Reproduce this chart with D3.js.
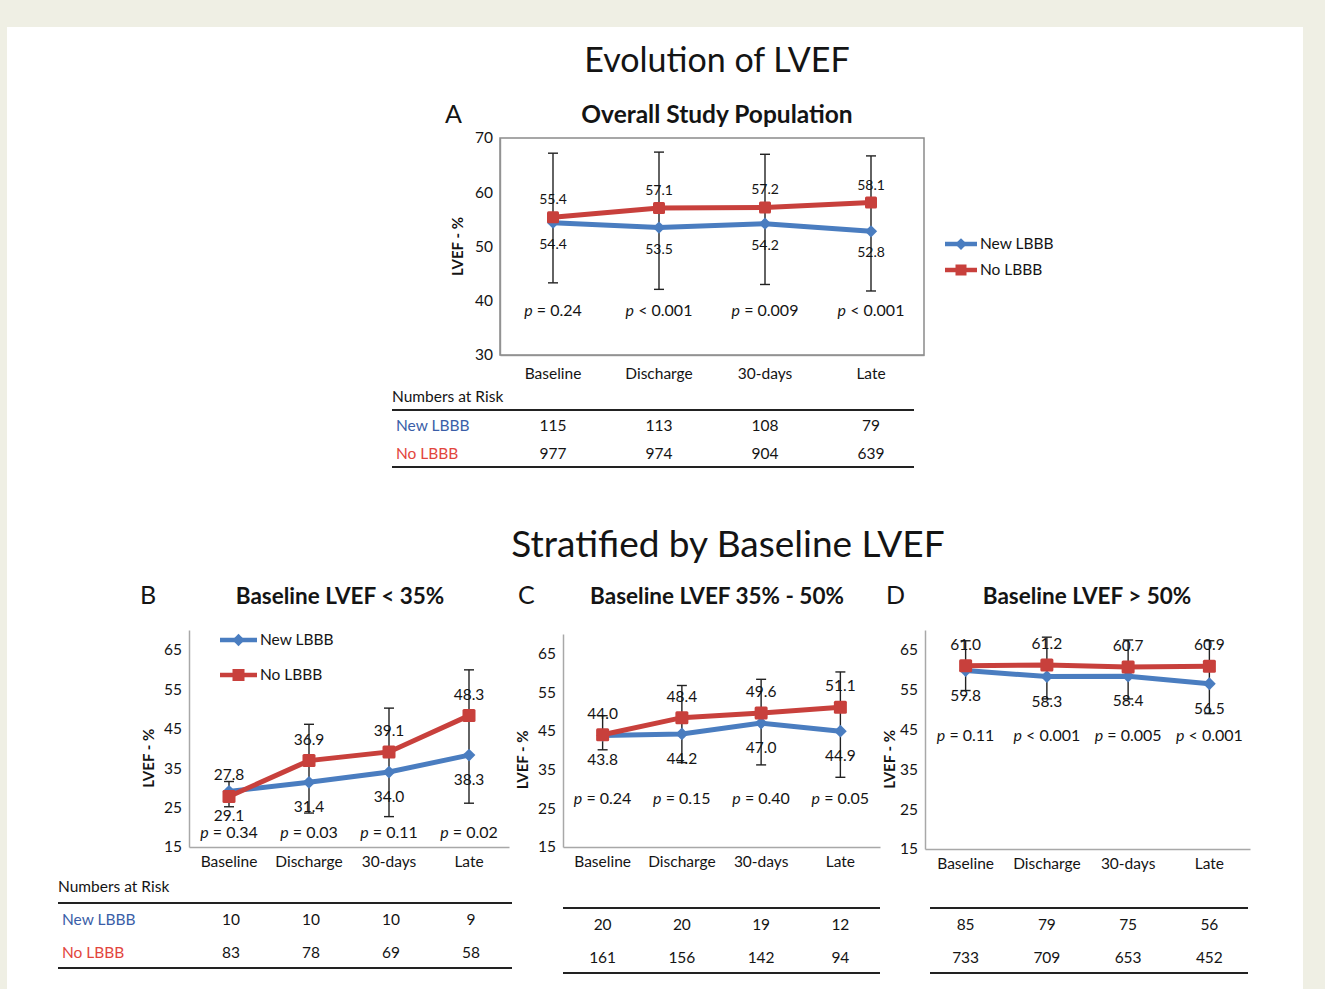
<!DOCTYPE html>
<html>
<head>
<meta charset="utf-8">
<script src="https://cdn.jsdelivr.net/npm/d3@7"></script>
<style>
  body { margin: 0; background: #efefe4; }
  svg { display: block; font-family: Lato, "Open Sans", sans-serif; }
</style>
</head>
<body>
<svg id="chart" width="1325" height="989"></svg>
<script>
// time points & series
var timepoints = ["Baseline", "Discharge", "30-days", "Late"];
var seriesNames = ["New LBBB", "No LBBB"];

// A - overall population
var newA = [54.4, 53.5, 54.2, 52.8];
var noA = [55.4, 57.1, 57.2, 58.1];
var errLowA = [43.3, 42.1, 43.0, 41.8];
var errHighA = [67.2, 67.4, 67.0, 66.7];
var pA = ["= 0.24", "< 0.001", "= 0.009", "< 0.001"];
var riskNewA = [115, 113, 108, 79];
var riskNoA = [977, 974, 904, 639];

// B - baseline LVEF < 35%
var newB = [29.1, 31.4, 34.0, 38.3];
var noB = [27.8, 36.9, 39.1, 48.3];
var errLowB = [25.2, 23.6, 22.7, 26.1];
var errHighB = [31.6, 46.1, 50.2, 59.9];
var pB = ["= 0.34", "= 0.03", "= 0.11", "= 0.02"];
var riskNewB = [10, 10, 10, 9];
var riskNoB = [83, 78, 69, 58];

// C - baseline LVEF 35% - 50%
var newC = [43.8, 44.2, 47.0, 44.9];
var noC = [44.0, 48.4, 49.6, 51.1];
var errLowC = [40.1, 36.8, 36.2, 33.0];
var errHighC = [48.9, 56.7, 58.3, 60.2];
var pC = ["= 0.24", "= 0.15", "= 0.40", "= 0.05"];
var riskNewC = [20, 20, 19, 12];
var riskNoC = [161, 156, 142, 94];

// D - baseline LVEF > 50%
var newD = [59.8, 58.3, 58.4, 56.5];
var noD = [61.0, 61.2, 60.7, 60.9];
var errLowD = [54.8, 52.7, 52.7, 49.0];
var errHighD = [67.3, 68.2, 67.5, 67.3];
var pD = ["= 0.11", "< 0.001", "= 0.005", "< 0.001"];
var riskNewD = [85, 79, 75, 56];
var riskNoD = [733, 709, 653, 452];

var ticksA = [30, 40, 50, 60, 70];
var ticksBCD = [15, 25, 35, 45, 55, 65];

var blue = "#4a7dc0", red = "#c8403c";
var tblBlue = "#3b5ea8", tblRed = "#e2453c";
var ink = "#141414";

var svg = d3.select("#chart");

// white card
svg.append("rect").attr("x", 7).attr("y", 27).attr("width", 1296).attr("height", 962).attr("fill", "#fff");

svg.append("text").attr("x", 717).attr("y", 72).attr("text-anchor", "middle")
  .attr("font-size", 34).attr("fill", ink).text("Evolution of LVEF");
svg.append("text").attr("x", 728).attr("y", 557).attr("text-anchor", "middle")
  .attr("font-size", 37).attr("fill", ink).text("Stratified by Baseline LVEF");

function drawPanel(o) {
  var g = svg.append("g");
  var x = d3.scaleBand().domain(timepoints).range([o.left, o.right]);
  var y = d3.scaleLinear().domain(o.domain).range([o.bottom, o.top]);
  var cx = function(i) { return x(timepoints[i]) + x.bandwidth() / 2; };

  // letter + title
  g.append("text").attr("x", o.letterX).attr("y", o.titleY).attr("font-size", 25).attr("fill", ink)
    .text(o.letter);
  g.append("text").attr("x", o.titleX).attr("y", o.titleY).attr("text-anchor", "middle")
    .attr("font-size", o.tfs).attr("font-weight", "bold").attr("fill", ink).text(o.title);

  // axes
  var ya = g.append("g").attr("transform", "translate(" + o.left + ",0)")
    .call(d3.axisLeft(y).tickValues(o.ticks).tickSize(0).tickPadding(7));
  ya.selectAll("text").attr("font-size", o.fs).attr("fill", ink).attr("font-family", "Lato");
  ya.select(".domain").attr("stroke", "#a8a8a8").attr("stroke-width", 1.5);

  var xa = g.append("g").attr("transform", "translate(0," + o.bottom + ")")
    .call(d3.axisBottom(x).tickSize(0).tickPadding(o.xPad));
  xa.selectAll("text").attr("font-size", o.fs).attr("fill", ink).attr("font-family", "Lato");
  xa.select(".domain").attr("stroke", "#a8a8a8").attr("stroke-width", 1.5);

  if (o.box) {
    g.append("rect").attr("x", o.left).attr("y", o.top)
      .attr("width", o.right - o.left).attr("height", o.bottom - o.top)
      .attr("fill", "none").attr("stroke", "#8a8a8a").attr("stroke-width", 1.5);
  }

  // y title
  g.append("text").attr("transform", "translate(" + o.yTitleX + "," + y((o.domain[0] + o.domain[1]) / 2 + o.yTitleShift) + ") rotate(-90)")
    .attr("text-anchor", "middle").attr("font-size", 15).attr("font-weight", "bold").attr("fill", ink).text("LVEF - %");

  // error bars
  o.low.forEach(function(lo, i) {
    var hi = o.high[i], xc = cx(i);
    g.append("line").attr("x1", xc).attr("x2", xc).attr("y1", y(lo)).attr("y2", y(hi))
      .attr("stroke", "#222").attr("stroke-width", 1.4);
    [lo, hi].forEach(function(v) {
      g.append("line").attr("x1", xc - 5).attr("x2", xc + 5).attr("y1", y(v)).attr("y2", y(v))
        .attr("stroke", "#222").attr("stroke-width", 1.4);
    });
  });

  var line = d3.line().x(function(d, i) { return cx(i); }).y(function(d) { return y(d); });

  // blue series
  g.append("path").datum(o.nw).attr("d", line).attr("fill", "none")
    .attr("stroke", blue).attr("stroke-width", o.lw);
  g.selectAll(".dia").data(o.nw).enter().append("path")
    .attr("d", d3.symbol(d3.symbolDiamond2, o.ms * 8))
    .attr("transform", function(d, i) { return "translate(" + cx(i) + "," + y(d) + ")"; })
    .attr("fill", blue);
  // red series
  g.append("path").datum(o.no).attr("d", line).attr("fill", "none")
    .attr("stroke", red).attr("stroke-width", o.lw);
  g.selectAll(".sq").data(o.no).enter().append("rect")
    .attr("x", function(d, i) { return cx(i) - o.ms / 2; })
    .attr("y", function(d) { return y(d) - o.ms / 2; })
    .attr("width", o.ms).attr("height", o.ms).attr("rx", 1.5).attr("fill", red);

  // data labels
  o.no.forEach(function(v, i) {
    g.append("text").attr("x", cx(i)).attr("y", y(v) - o.labUp).attr("text-anchor", "middle")
      .attr("font-size", o.lfs).attr("fill", ink).text(v.toFixed(1));
  });
  o.nw.forEach(function(v, i) {
    g.append("text").attr("x", cx(i)).attr("y", y(v) + o.labDown).attr("text-anchor", "middle")
      .attr("font-size", o.lfs).attr("fill", ink).text(v.toFixed(1));
  });

  // p values
  o.p.forEach(function(s, i) {
    var t = g.append("text").attr("x", cx(i)).attr("y", o.pY).attr("text-anchor", "middle")
      .attr("font-size", o.fs + 0.5).attr("fill", ink);
    t.append("tspan").attr("font-style", "italic").text("p");
    t.append("tspan").text(" " + s);
  });

  // numbers at risk table
  var tb = o.table;
  if (tb.heading) {
    g.append("text").attr("x", tb.x0).attr("y", tb.headY).attr("font-size", o.fs).attr("fill", ink)
      .text("Numbers at Risk");
  }
  [tb.line1, tb.line2].forEach(function(ly) {
    g.append("line").attr("x1", tb.x0).attr("x2", tb.x1).attr("y1", ly).attr("y2", ly)
      .attr("stroke", "#222").attr("stroke-width", 2.2);
  });
  var rows = [o.riskNew, o.riskNo], rowColors = [tblBlue, tblRed];
  rows.forEach(function(row, r) {
    if (tb.heading) {
      g.append("text").attr("x", tb.x0 + 4).attr("y", tb.rowY[r]).attr("font-size", o.fs)
        .attr("fill", rowColors[r]).text(seriesNames[r]);
    }
    row.forEach(function(v, i) {
      g.append("text").attr("x", cx(i) + (tb.dx || 0)).attr("y", tb.rowY[r]).attr("text-anchor", "middle")
        .attr("font-size", o.fs).attr("fill", ink).text(v);
    });
  });

  return { g: g, x: x, y: y, cx: cx };
}

function legend(g, x0, x1, yBlue, yRed, fs, ms) {
  [[yBlue, blue, "New LBBB", "d"], [yRed, red, "No LBBB", "s"]].forEach(function(e) {
    g.append("line").attr("x1", x0).attr("x2", x1).attr("y1", e[0]).attr("y2", e[0])
      .attr("stroke", e[1]).attr("stroke-width", 4.5);
    var mx = (x0 + x1) / 2;
    if (e[3] === "d") {
      g.append("path").attr("d", d3.symbol(d3.symbolDiamond2, ms * 8))
        .attr("transform", "translate(" + mx + "," + e[0] + ")").attr("fill", e[1]);
    } else {
      g.append("rect").attr("x", mx - ms / 2).attr("y", e[0] - ms / 2).attr("width", ms).attr("height", ms)
        .attr("fill", e[1]);
    }
    g.append("text").attr("x", x1 + 3).attr("y", e[0] + 5).attr("font-size", fs).attr("fill", ink).text(e[2]);
  });
}

var pa = drawPanel({
  letter: "A", letterX: 445, title: "Overall Study Population", titleX: 717, titleY: 123, tfs: 24.5,
  left: 500, right: 924, top: 138, bottom: 355, domain: [30, 70], ticks: ticksA,
  box: true, fs: 15.5, lfs: 14, xPad: 13, lw: 5, ms: 12, labUp: 13, labDown: 26,
  yTitleX: 463, yTitleShift: 0,
  nw: newA, no: noA, low: errLowA, high: errHighA, p: pA, pY: 316,
  riskNew: riskNewA, riskNo: riskNoA,
  table: { heading: true, x0: 392, x1: 914, headY: 402, line1: 410, line2: 467, rowY: [431, 459] }
});
legend(pa.g, 945, 977, 244, 270, 15.5, 11);

var pb = drawPanel({
  letter: "B", letterX: 140, title: "Baseline LVEF < 35%", titleX: 340, titleY: 604, tfs: 22.5,
  left: 189, right: 509, top: 630, bottom: 847, domain: [15, 70], ticks: ticksBCD,
  box: false, fs: 15.5, lfs: 15.5, xPad: 9, lw: 5, ms: 13, labUp: 16, labDown: 30,
  yTitleX: 154, yTitleShift: -5,
  nw: newB, no: noB, low: errLowB, high: errHighB, p: pB, pY: 838,
  riskNew: riskNewB, riskNo: riskNoB,
  table: { heading: true, x0: 58, x1: 512, headY: 892, line1: 903, line2: 968, rowY: [925, 958], dx: 2 }
});
legend(pb.g, 220, 257, 640, 675, 15.5, 12);

drawPanel({
  letter: "C", letterX: 518, title: "Baseline LVEF 35% - 50%", titleX: 717, titleY: 604, tfs: 22.5,
  left: 563, right: 880, top: 634, bottom: 847, domain: [15, 70], ticks: ticksBCD,
  box: false, fs: 15.5, lfs: 15.5, xPad: 9, lw: 5, ms: 13, labUp: 16, labDown: 30,
  yTitleX: 528, yTitleShift: -5,
  nw: newC, no: noC, low: errLowC, high: errHighC, p: pC, pY: 804,
  riskNew: riskNewC, riskNo: riskNoC,
  table: { heading: false, x0: 563, x1: 880, line1: 908, line2: 973, rowY: [930, 963] }
});

drawPanel({
  letter: "D", letterX: 886, title: "Baseline LVEF > 50%", titleX: 1087, titleY: 604, tfs: 22.5,
  left: 925, right: 1250, top: 630, bottom: 849, domain: [15, 70], ticks: ticksBCD,
  box: false, fs: 15.5, lfs: 15.5, xPad: 9, lw: 5, ms: 13, labUp: 16, labDown: 30,
  yTitleX: 895, yTitleShift: -5,
  nw: newD, no: noD, low: errLowD, high: errHighD, p: pD, pY: 741,
  riskNew: riskNewD, riskNo: riskNoD,
  table: { heading: false, x0: 930, x1: 1248, line1: 908, line2: 973, rowY: [930, 963] }
});
</script>
</body>
</html>
